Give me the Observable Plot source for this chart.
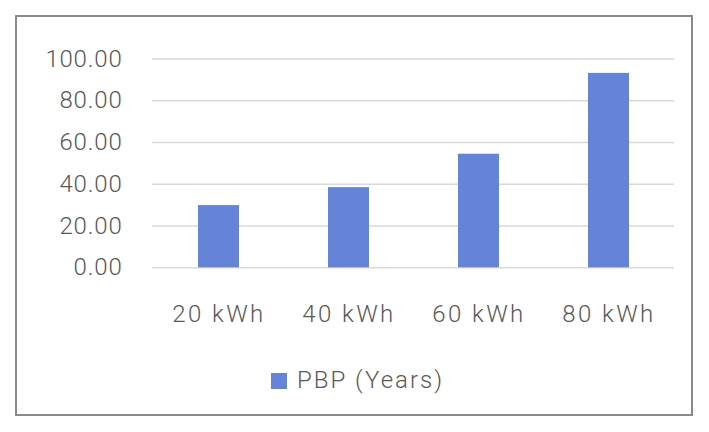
<!DOCTYPE html>
<html>
<head>
<meta charset="utf-8">
<script src="https://cdn.jsdelivr.net/npm/d3@7"></script>
<script src="https://cdn.jsdelivr.net/npm/@observablehq/plot@0.6"></script>
<style>
  html, body { margin: 0; padding: 0; background: #fff; }
  #frame {
    position: absolute; left: 15px; top: 15px;
    width: 674px; height: 397px;
    border: 2px solid #8a8a8a;
    background: #fff;
  }
  #chart svg { font-weight: 300; }
  #chart svg g[aria-label="x-axis tick label"] text { letter-spacing: 2.4px; }
  #chart svg g[aria-label="y-axis tick label"] text { letter-spacing: 0.8px; }
  #legend {
    position: absolute; left: 254px; top: 351px;
    display: flex; align-items: flex-start;
    font-family: Roboto, sans-serif; font-size: 24px; line-height: 24px; font-weight: 300;
    color: #595959; letter-spacing: 2px;
  }
  #legend .sw { width: 16px; height: 16px; margin-top: 5px; margin-right: 10px; }
</style>
</head>
<body>
<div id="frame">
  <div id="chart"></div>
  <div id="legend"></div>
</div>
<script>
const categories = ["20 kWh", "40 kWh", "60 kWh", "80 kWh"];
const pbpYears = [29.8, 38.4, 54.4, 93.1];
const yTicks = [0, 20, 40, 60, 80, 100];
const seriesName = "PBP (Years)";
const barColor = "#6584d8";

const data = categories.map((c, i) => ({cat: c, value: pbpYears[i]}));

const chart = Plot.plot({
  width: 674,
  height: 330,
  marginLeft: 135,
  marginRight: 17,
  marginTop: 41.5,
  marginBottom: 79.7,
  style: {fontFamily: "Roboto, sans-serif", fontSize: "24px", color: "#595959", background: "#fff", overflow: "visible"},
  x: {domain: categories, paddingInner: 0.686, paddingOuter: 0.343, label: null, tickSize: 0, tickPadding: 37},
  y: {domain: [0, 100], ticks: yTicks, tickFormat: d => d.toFixed(2), label: null, tickSize: 0, tickPadding: 30},
  marks: [
    Plot.gridY(yTicks, {stroke: "#d9d9d9", strokeOpacity: 1, strokeWidth: 1.6}),
    Plot.barY(data, {x: "cat", y: "value", fill: barColor})
  ]
});
document.getElementById("chart").appendChild(chart);

const legend = document.getElementById("legend");
const sw = document.createElement("span");
sw.className = "sw";
sw.style.background = barColor;
const lt = document.createElement("span");
lt.textContent = seriesName;
legend.appendChild(sw);
legend.appendChild(lt);
</script>
</body>
</html>
